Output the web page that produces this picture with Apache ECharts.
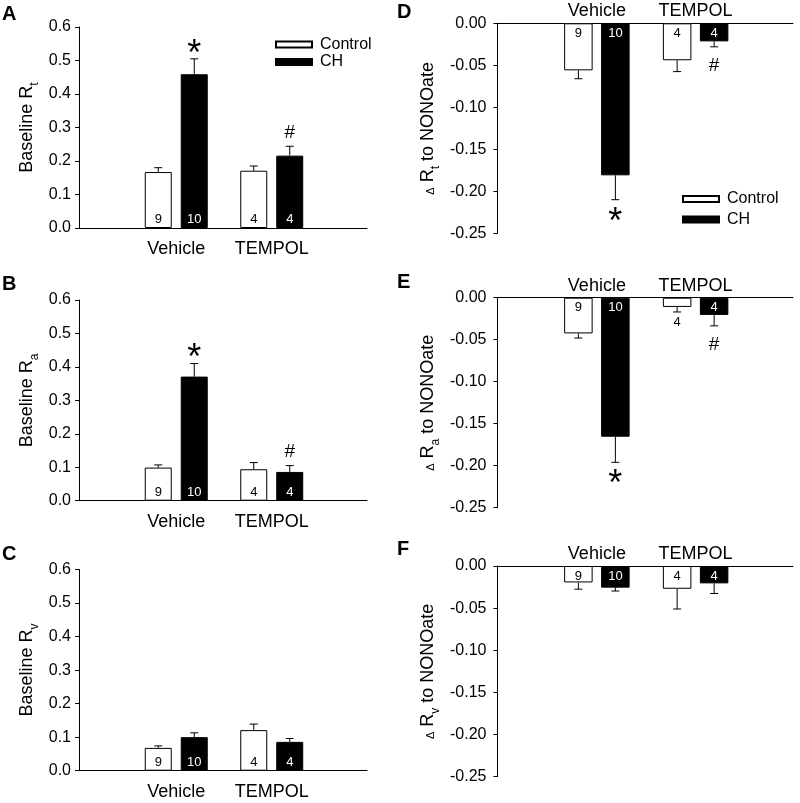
<!DOCTYPE html>
<html><head><meta charset="utf-8">
<script src="https://cdn.jsdelivr.net/npm/echarts@6/dist/echarts.min.js"></script>
<style>html,body{margin:0;padding:0;background:#fff}#c{width:800px;height:803px}</style>
</head><body><div id="c"></div>
<script>
// ---------- data ----------
const groups = ['Vehicle', 'TEMPOL'];
const seriesNames = ['Control', 'CH'];
const nControl = [9, 4];
const nCH = [10, 4];

// Panel A: Baseline Rt
const A_control = [0.167, 0.171];
const A_controlErr = [0.013, 0.014];
const A_ch = [0.459, 0.216];
const A_chErr = [0.046, 0.028];
const A_sig = ['*', '#'];
// Panel B: Baseline Ra
const B_control = [0.099, 0.094];
const B_controlErr = [0.008, 0.020];
const B_ch = [0.371, 0.086];
const B_chErr = [0.039, 0.019];
const B_sig = ['*', '#'];
// Panel C: Baseline Rv
const C_control = [0.068, 0.121];
const C_controlErr = [0.006, 0.018];
const C_ch = [0.100, 0.086];
const C_chErr = [0.013, 0.010];
const C_sig = ['', ''];
// Panel D: delta Rt to NONOate
const D_control = [-0.056, -0.044];
const D_controlErr = [0.010, 0.0135];
const D_ch = [-0.181, -0.0215];
const D_chErr = [0.029, 0.0065];
const D_sig = ['*', '#'];
// Panel E: delta Ra to NONOate
const E_control = [-0.0425, -0.011];
const E_controlErr = [0.0055, 0.006];
const E_ch = [-0.1655, -0.0205];
const E_chErr = [0.0305, 0.013];
const E_sig = ['*', '#'];
// Panel F: delta Rv to NONOate
const F_control = [-0.0195, -0.027];
const F_controlErr = [0.008, 0.024];
const F_ch = [-0.0257, -0.0206];
const F_chErr = [0.004, 0.012];
const F_sig = ['', ''];

// axis scales / tick labels
const baselineAxis = { min: 0, max: 0.6, step: 0.1, decimals: 1 };
const deltaAxis = { min: -0.25, max: 0, step: 0.05, decimals: 2 };

// ---------- chart ----------
const FONT = "'Liberation Sans', Arial, Helvetica, sans-serif";
const option = { animation: false, backgroundColor: '#fff', grid: [], xAxis: [], yAxis: [], series: [], legend: [], graphic: [] };

function subTitle(prefix, sub, suffix, delta) {
  let s = '';
  if (delta) s += '{d|\u0394}{m| R}';
  else s += '{m|' + prefix + '}';
  s += '{s|' + sub + '}';
  if (suffix) s += '{m|' + suffix + '}';
  return s;
}

function addPanel(p) {
  const gi = option.grid.length;
  option.grid.push({ left: p.ox, top: p.oy, width: p.ow, height: p.oh, containLabel: false, outerBoundsMode: 'none' });
  option.grid.push({ left: p.ix, top: p.oy, width: p.iw, height: p.oh, containLabel: false, outerBoundsMode: 'none' });
  // outer axes (visible frame)
  option.xAxis.push({ gridIndex: gi, type: 'category', data: [''], position: p.xPos,
    axisLine: { show: true, onZero: false, lineStyle: { color: '#000', width: 1 } },
    axisTick: { show: false }, axisLabel: { show: false }, splitLine: { show: false } });
  option.yAxis.push({ gridIndex: gi, type: 'value', min: p.axis.min, max: p.axis.max, interval: p.axis.step,
    axisLine: { show: true, lineStyle: { color: '#000', width: 1 } },
    axisTick: { show: true, length: 4, lineStyle: { color: '#000', width: 1 } },
    splitLine: { show: false },
    axisLabel: { fontSize: 16, color: '#000', fontFamily: FONT, margin: p.tickMargin,
      formatter: v => (Math.abs(v) < 1e-9 ? 0 : v).toFixed(p.axis.decimals) },
    name: p.title, nameLocation: 'middle', nameRotate: 90, nameGap: p.nameGap,
    nameTextStyle: { color: '#000', fontFamily: FONT, fontSize: 18,
      rich: {
        m: { fontSize: 18, lineHeight: 20, verticalAlign: 'top', fontFamily: FONT, color: '#000' },
        s: { fontSize: 12, lineHeight: 23, verticalAlign: 'bottom', fontFamily: FONT, color: '#000' },
        d: { fontSize: 11, lineHeight: 23, verticalAlign: 'middle', fontFamily: FONT, color: '#000' }
      } } });
  // inner axes (bar placement)
  const xi = option.xAxis.length;
  option.xAxis.push({ gridIndex: gi + 1, type: 'category', data: groups, position: p.xPos,
    axisLine: { show: false, onZero: false }, axisTick: { show: false }, splitLine: { show: false },
    axisLabel: { interval: 0, fontSize: 18, color: '#000', fontFamily: FONT, margin: p.catMargin } });
  const yi = option.yAxis.length;
  option.yAxis.push({ gridIndex: gi + 1, type: 'value', min: p.axis.min, max: p.axis.max, interval: p.axis.step, show: false });

  const styles = [
    { color: '#fff', borderColor: '#000', borderWidth: 1 },
    { color: '#000', borderColor: '#000', borderWidth: 1 }
  ];
  const vals = [p.control, p.ch];
  const errs = [p.controlErr, p.chErr];
  const counts = [nControl, nCH];
  const sigs = [['', ''], p.sig];
  const half = (p.barWidth + p.gap) / 2;
  for (let s = 0; s < 2; s++) {
    option.series.push({ type: 'bar', name: seriesNames[s], xAxisIndex: xi, yAxisIndex: yi,
      data: vals[s], barWidth: p.barWidth, barGap: (p.gap / p.barWidth * 100).toFixed(1) + '%',
      itemStyle: styles[s], z: 2, silent: true });
  }
  for (let s = 0; s < 2; s++) {
    const offset = (s === 0 ? -1 : 1) * half;
    const cnt = counts[s], sg = sigs[s];
    option.series.push({ type: 'custom', name: seriesNames[s] + '_err', xAxisIndex: xi, yAxisIndex: yi,
      z: 5, clip: false, silent: true,
      data: vals[s].map((v, i) => [i, v, errs[s][i]]),
      renderItem: (params, api) => {
        const i = api.value(0), v = api.value(1), e = api.value(2);
        const sign = v < 0 ? -1 : 1;
        const base = api.coord([i, 0]);
        const pv = api.coord([i, v]);
        const pe = api.coord([i, v + sign * e]);
        const x = pv[0] + offset;
        const pdir = v < 0 ? 1 : -1; // pixel direction of growth
        const children = [
          { type: 'line', shape: { x1: x, y1: pv[1], x2: x, y2: pe[1] }, style: { stroke: '#000', lineWidth: 1 } },
          { type: 'line', shape: { x1: x - 4, y1: pe[1], x2: x + 4, y2: pe[1] }, style: { stroke: '#000', lineWidth: 1 } }
        ];
        const barLen = Math.abs(pv[1] - base[1]);
        let ly, lcol;
        if (barLen >= 13) { ly = base[1] + pdir * (v < 0 ? 10 : 8.5); lcol = s === 1 ? '#fff' : '#000'; }
        else { ly = pe[1] + pdir * 10; lcol = '#000'; }
        children.push({ type: 'text', x: x, y: ly,
          style: { text: String(cnt[i]), fill: lcol, font: '13px ' + FONT, align: 'center', verticalAlign: 'middle' } });
        const mk = sg[i];
        if (mk) {
          let my;
          if (mk === '*') my = pe[1] + (v < 0 ? 23 : -4);
          else my = pe[1] + (v < 0 ? 18.5 : -13.5);
          children.push({ type: 'text', x: x, y: my,
            style: { text: mk, fill: '#000', font: (mk === '*' ? '36px ' : '19px ') + FONT, align: 'center', verticalAlign: 'middle' } });
        }
        return { type: 'group', children };
      } });
  }
  option.graphic.push({ type: 'text', x: p.letterX, y: p.letterY,
    style: { text: p.letter, font: 'bold 20px ' + FONT, fill: '#000' } });
}

const left = { ox: 79, ow: 288, ix: 128.5, iw: 191, axis: baselineAxis, xPos: 'bottom', catMargin: 12, tickMargin: 8, barWidth: 27, gap: 9, nameGap: 38, letterX: 2 };
const right = { ox: 497.5, ow: 295.5, ix: 547.5, iw: 197.5, axis: deltaAxis, xPos: 'top', catMargin: 3, tickMargin: 11, barWidth: 28.5, gap: 8.5, nameGap: 55.5, letterX: 397 };

addPanel(Object.assign({}, left, { letter: 'A', letterY: 4.5, oy: 27, oh: 201, title: subTitle('Baseline R', 't'),
  control: A_control, controlErr: A_controlErr, ch: A_ch, chErr: A_chErr, sig: A_sig }));
addPanel(Object.assign({}, left, { letter: 'B', letterY: 274, oy: 300, oh: 200.7, title: subTitle('Baseline R', 'a'),
  control: B_control, controlErr: B_controlErr, ch: B_ch, chErr: B_chErr, sig: B_sig }));
addPanel(Object.assign({}, left, { letter: 'C', letterY: 544.5, oy: 569.5, oh: 201.2, title: subTitle('Baseline R', 'v'),
  control: C_control, controlErr: C_controlErr, ch: C_ch, chErr: C_chErr, sig: C_sig }));
addPanel(Object.assign({}, right, { letter: 'D', letterY: 2.5, oy: 23.3, oh: 210, title: subTitle('', 't', ' to NONOate', true),
  control: D_control, controlErr: D_controlErr, ch: D_ch, chErr: D_chErr, sig: D_sig }));
addPanel(Object.assign({}, right, { letter: 'E', letterY: 272.5, oy: 297.7, oh: 210, title: subTitle('', 'a', ' to NONOate', true),
  control: E_control, controlErr: E_controlErr, ch: E_ch, chErr: E_chErr, sig: E_sig }));
addPanel(Object.assign({}, right, { letter: 'F', letterY: 539, oy: 566, oh: 210.7, title: subTitle('', 'v', ' to NONOate', true),
  control: F_control, controlErr: F_controlErr, ch: F_ch, chErr: F_chErr, sig: F_sig }));

const legendBase = { orient: 'vertical', icon: 'rect', itemWidth: 36, itemHeight: 6, data: seriesNames,
  selectedMode: false, padding: 0,
  textStyle: { fontSize: 16, color: '#000', fontFamily: FONT, lineHeight: 16, padding: [0, 0, 0, 3] } };
option.legend.push(Object.assign({}, legendBase, { left: 275, top: 36.5, itemGap: 1.5 }));
option.legend.push(Object.assign({}, legendBase, { left: 682, top: 191, itemGap: 4.5 }));

const chart = echarts.init(document.getElementById('c'), null, { renderer: 'canvas' });
chart.setOption(option);
</script></body></html>
